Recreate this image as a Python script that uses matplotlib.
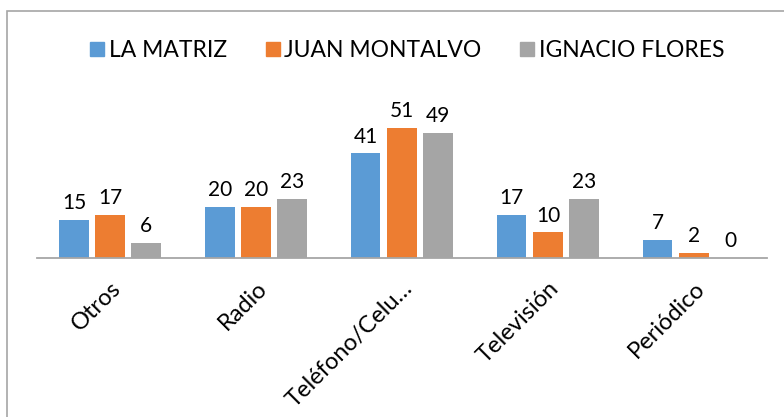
import numpy as np
import matplotlib.pyplot as plt
from matplotlib.patches import Rectangle
from matplotlib.lines import Line2D

categorias = ['Otros', 'Radio', 'Teléfono/Celu…', 'Televisión', 'Periódico']
series = ['LA MATRIZ', 'JUAN MONTALVO', 'IGNACIO FLORES']
la_matriz = [15, 20, 41, 17, 7]
juan_montalvo = [17, 20, 51, 10, 2]
ignacio_flores = [6, 23, 49, 23, 0]
colores = ['#5B9BD5', '#ED7D31', '#A5A5A5']

plt.rcParams['font.family'] = ['Lato', 'DejaVu Sans']

fig = plt.figure(figsize=(7.84, 4.17), dpi=100)
ax = fig.add_axes([0.0472, 0.3813, 0.931, 0.3669])

x = np.arange(len(categorias))
ancho = 0.2
paso = 0.247
valores = [la_matriz, juan_montalvo, ignacio_flores]
for i, (vals, col) in enumerate(zip(valores, colores)):
    barras = ax.bar(x + (i - 1) * paso, vals, ancho, color=col)
    for b, v in zip(barras, vals):
        ax.annotate(str(v), (b.get_x() + b.get_width() / 2, v),
                    xytext=(0, 5), textcoords='offset points',
                    ha='center', va='bottom', fontsize=15)

ax.set_xlim(-0.5, len(categorias) - 0.5)
ax.set_ylim(0, 60)
ax.set_yticks([])
for s in ['top', 'right', 'left']:
    ax.spines[s].set_visible(False)
ax.spines['bottom'].set_color('#A6A6A6')
ax.spines['bottom'].set_linewidth(1.3)
ax.set_xticks(x)
ax.set_xticklabels(categorias, rotation=45, ha='right', rotation_mode='anchor',
                   fontsize=17)
ax.tick_params(axis='x', length=0, pad=14)

handles = [Line2D([], [], marker='s', linestyle='none', markersize=10,
                  markerfacecolor=c, markeredgecolor=c) for c in colores]
fig.legend(handles, series, loc='center', bbox_to_anchor=(0.518, 0.88),
           ncol=3, frameon=False, fontsize=16.5, handletextpad=0.1,
           columnspacing=1.6, handlelength=0.8)

# borde del gráfico
fig.patches.append(Rectangle((7 / 784, -0.1), 1.1, 1.1 - 11 / 417,
                             transform=fig.transFigure, fill=False,
                             edgecolor='#A6A6A6', linewidth=1.2))

fig.savefig('out.png', dpi=100)
